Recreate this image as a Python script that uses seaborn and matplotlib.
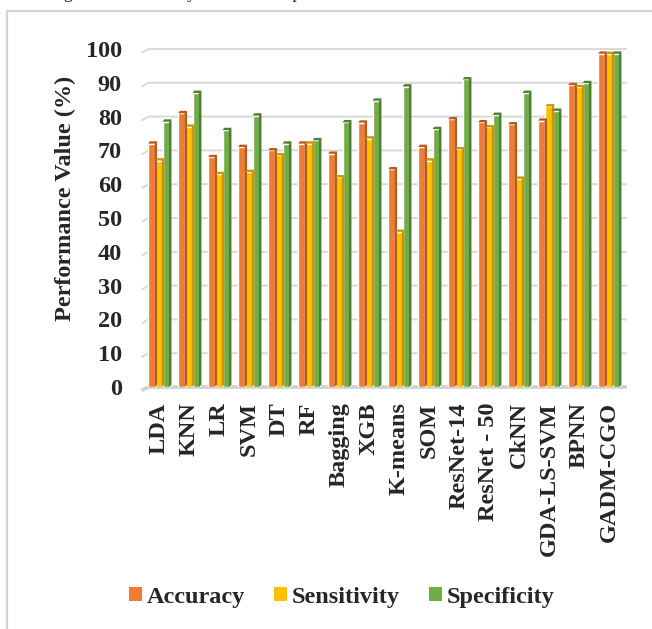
import matplotlib
matplotlib.use("Agg")
import matplotlib.pyplot as plt
from matplotlib.patches import Polygon, Patch
from matplotlib.lines import Line2D
import seaborn as sns
import pandas as pd

# ---- data ----
models = ["LDA", "KNN", "LR", "SVM", "DT", "RF", "Bagging", "XGB", "K-means",
          "SOM", "ResNet-14", "ResNet - 50", "CkNN", "GDA-LS-SVM", "BPNN", "GADM-CGO"]
accuracy = [72, 81, 68, 71, 70, 72, 69, 78.2, 64.4, 71, 79.2, 78.3, 77.7, 78.8, 89.3, 98.6]
sensitivity = [67, 77, 63, 63.6, 68.5, 72, 62, 73.5, 45.9, 67, 70.3, 76.8, 61.6, 83, 88.7, 98.5]
specificity = [78.5, 87, 76, 80.3, 72, 73, 78.3, 84.7, 88.9, 76.3, 91, 80.5, 87, 81.7, 89.9, 98.6]
metrics = ["Accuracy", "Sensitivity", "Specificity"]
yticks = list(range(0, 101, 10))

colors = {"Accuracy": "#EE7D33", "Sensitivity": "#FFC000", "Specificity": "#70AD47"}
side_colors = {"Accuracy": "#B85A1E", "Sensitivity": "#C99500", "Specificity": "#4E7F30"}

df = pd.DataFrame({
    "Model": models * 3,
    "Metric": [m for m in metrics for _ in models],
    "Value": accuracy + sensitivity + specificity,
})

sns.set_theme(style="white")
plt.rcParams["font.family"] = ["Liberation Serif", "DejaVu Serif"]
plt.rcParams["font.weight"] = "bold"
FS = 17.5

fig = plt.figure(figsize=(6.52, 6.29), dpi=100)
ax = fig.add_axes([144 / 652, 1 - 387 / 629, 480 / 652, (387 - 49) / 629])

sns.barplot(data=df, x="Model", y="Value", hue="Metric", palette=colors,
            width=0.72, gap=0, ax=ax, legend=False, saturation=1, zorder=3)

# pseudo-3D faces on each bar: darker right side and top cap
dx, dy = 0.055, 0.7
for patch, metric in zip(ax.patches, [m for m in metrics for _ in models]):
    x0, w, h = patch.get_x(), patch.get_width(), patch.get_height()
    x1 = x0 + w
    side = Polygon([(x1 - dx * 0.5, 0), (x1 - dx * 0.5, h), (x1 + dx, h + dy), (x1 + dx, dy)],
                   closed=True, facecolor=side_colors[metric], edgecolor="none", zorder=3)
    top = Polygon([(x0, h), (x1, h), (x1 + dx, h + dy), (x0 + dx, h + dy)],
                  closed=True, facecolor=side_colors[metric], edgecolor="none", zorder=3)
    ax.add_patch(side)
    ax.add_patch(top)

ax.set_ylim(0, 100)
ax.set_xlim(-0.5, len(models) - 0.5)
ax.set_yticks(yticks)
ax.set_yticklabels([str(t) for t in yticks], fontsize=FS, fontweight="bold")
ax.set_xticks(range(len(models)))
ax.set_xticklabels(models, rotation=90, fontsize=FS, fontweight="bold", va="top", ha="center")
ax.tick_params(axis="y", length=0, pad=16)
ax.tick_params(axis="x", length=0, pad=11)
ax.set_xlabel("")
ax.set_ylabel("")
ax.grid(False)
for s in ax.spines.values():
    s.set_visible(False)

# gridlines with a short perspective kink at their left end
x_end = len(models) - 0.4
for t in yticks[1:]:
    ax.plot([-0.58, -0.36, x_end], [t - 1.2, t, t], color="#D9D9D9", lw=1.4,
            zorder=1, clip_on=False, solid_capstyle="butt")
ax.plot([-0.58, -0.36, x_end], [-1.0, 0, 0], color="#D0D0D0", lw=2.6,
        zorder=2, clip_on=False, solid_capstyle="butt")

fig.text(65 / 652, 1 - 198 / 629, "Performance Value (%)", rotation=90,
         ha="center", va="center", fontsize=FS, fontweight="bold")

handles = [Patch(facecolor=colors[m], edgecolor="none") for m in metrics]
fig.legend(handles, metrics, loc="center", bbox_to_anchor=(342 / 652, 1 - 597 / 629),
           ncol=3, frameon=False, handlelength=0.53, handleheight=0.53,
           handletextpad=0.2, columnspacing=1.2, borderpad=0.0,
           prop={"weight": "bold", "size": FS})

# surrounding frame and the running text above it
fig.add_artist(Line2D([7 / 652, 1.0], [1 - 11 / 629, 1 - 11 / 629],
                      transform=fig.transFigure, color="#D4D4D4", lw=1.6))
fig.add_artist(Line2D([7 / 652, 7 / 652], [0, 1 - 11 / 629],
                      transform=fig.transFigure, color="#D4D4D4", lw=1.6))
fig.text(0.0, 1 + 1.5 / 629, "oved a significant accuracy in the tested prediction.",
         ha="left", va="baseline", fontsize=13, fontweight="normal")

fig.savefig("out.png", dpi=100)
